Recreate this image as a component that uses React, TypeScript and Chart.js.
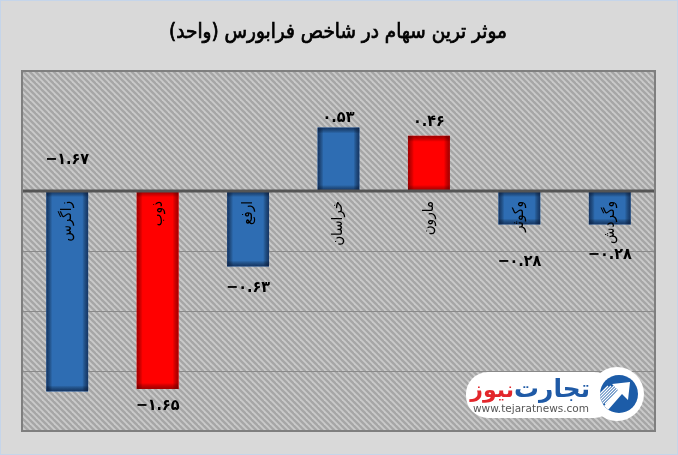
import React, { useEffect, useRef } from "react";
import { Chart, registerables } from "chart.js";

Chart.register(...registerables);

const TITLE = "موثر ترین سهام در شاخص فرابورس (واحد)";
const categories = ["زاگرس", "ذوب", "ارفع", "خراسان", "مارون", "وکوثر", "وگردش"];
const values = [-1.67, -1.65, -0.63, 0.53, 0.46, -0.28, -0.28];
const barColorKeys = ["blue", "red", "blue", "blue", "red", "blue", "blue"];
const yMin = -2;
const yMax = 1;
const yStep = 0.5;
// label placement: 'end' = beyond the bar end, 'zero' = above the zero line
const labelAnchor = ["zero", "end", "end", "end", "end", "end", "end"];
const labelGap = [31, 17, 21, 10, 14, 37, 30];

const COLORS: Record<string, { fill: string; edge: string }> = {
  blue: { fill: "#2E6DB3", edge: "rgba(10,30,70,0.7)" },
  red: { fill: "#FF0000", edge: "rgba(90,0,0,0.55)" },
};

const FONT = '"DejaVu Sans", sans-serif';
const FONT_C = '"DejaVu Sans Condensed", "DejaVu Sans", sans-serif';

function toFa(n: number): string {
  const s = Math.abs(n)
    .toFixed(2)
    .replace(/\d/g, (d) => String.fromCharCode(0x06f0 + Number(d)));
  return (n < 0 ? "−" : "") + s;
}

let hatch: CanvasPattern | null = null;
function getHatch(ctx: CanvasRenderingContext2D): CanvasPattern | null {
  if (hatch) return hatch;
  const tile = document.createElement("canvas");
  tile.width = 6;
  tile.height = 6;
  const t = tile.getContext("2d")!;
  t.fillStyle = "#CACACA";
  t.fillRect(0, 0, 6, 6);
  t.strokeStyle = "#A6A6A6";
  t.lineWidth = 2.4;
  for (const k of [-6, 0, 6]) {
    t.beginPath();
    t.moveTo(k - 1, -1);
    t.lineTo(k + 7, 7);
    t.stroke();
  }
  hatch = ctx.createPattern(tile, "repeat");
  return hatch;
}

function fitFont(ctx: CanvasRenderingContext2D, text: string, weight: string, targetW: number, fam = FONT): number {
  ctx.font = `${weight} 20px ${fam}`;
  const w = ctx.measureText(text).width;
  return (20 * targetW) / w;
}

const decorPlugin = {
  id: "decor",
  beforeDraw(chart: any) {
    const { ctx, chartArea: a, width, height } = chart;
    ctx.save();
    ctx.fillStyle = "#D9D9D9";
    ctx.fillRect(0, 0, width, height);
    ctx.strokeStyle = "#C5D5EA";
    ctx.lineWidth = 1;
    ctx.strokeRect(0.5, 0.5, width - 1, height - 1);
    const p = getHatch(ctx);
    if (p) ctx.fillStyle = p;
    ctx.fillRect(a.left, a.top, a.right - a.left, a.bottom - a.top);
    // gridlines (only on the negative side, like the reference)
    const ys = chart.scales.y;
    const ticks: number[] = (ys.ticks || []).map((t: any) => t.value);
    ctx.strokeStyle = "#8A8A8A";
    ctx.lineWidth = 1;
    for (const v of ticks) {
      if (v < 0 && v > yMin) {
        const py = Math.round(ys.getPixelForValue(v)) + 0.5;
        ctx.beginPath();
        ctx.moveTo(a.left, py);
        ctx.lineTo(a.right, py);
        ctx.stroke();
      }
    }
    ctx.restore();
  },
  afterDatasetsDraw(chart: any) {
    const { ctx, chartArea: a } = chart;
    const meta = chart.getDatasetMeta(0);
    const ys = chart.scales.y;
    const y0 = ys.getPixelForValue(0);
    ctx.save();
    // inner shadows on bars
    meta.data.forEach((bar: any, i: number) => {
      const w = bar.width;
      const l = bar.x - w / 2;
      const top = Math.min(bar.y, bar.base);
      const h = Math.abs(bar.base - bar.y);
      const edge = COLORS[barColorKeys[i]].edge;
      const s = 6;
      ctx.save();
      ctx.beginPath();
      ctx.rect(l, top, w, h);
      ctx.clip();
      const grads: [number, number, number, number, number, number, number, number][] = [
        [l, 0, l + s, 0, l, top, s, h],
        [l + w, 0, l + w - s, 0, l + w - s, top, s, h],
        [0, top, 0, top + s, l, top, w, s],
        [0, top + h, 0, top + h - s, l, top + h - s, w, s],
      ];
      for (const g of grads) {
        const gr = ctx.createLinearGradient(g[0], g[1], g[2], g[3]);
        gr.addColorStop(0, edge);
        gr.addColorStop(1, "rgba(0,0,0,0)");
        ctx.fillStyle = gr;
        ctx.fillRect(g[4], g[5], g[6], g[7]);
      }
      ctx.restore();
    });
    // zero line
    ctx.strokeStyle = "#555555";
    ctx.lineWidth = 3;
    ctx.beginPath();
    ctx.moveTo(a.left, y0);
    ctx.lineTo(a.right, y0);
    ctx.stroke();
    // plot border
    ctx.strokeStyle = "#7F7F7F";
    ctx.lineWidth = 2;
    ctx.strokeRect(a.left, a.top, a.right - a.left, a.bottom - a.top);

    // value labels
    ctx.fillStyle = "#000";
    ctx.textAlign = "center";
    ctx.textBaseline = "middle";
    ctx.font = `bold 16px ${FONT_C}`;
    meta.data.forEach((bar: any, i: number) => {
      const v = values[i];
      let ly: number;
      if (labelAnchor[i] === "zero") ly = y0 - labelGap[i];
      else ly = v >= 0 ? bar.y - labelGap[i] : bar.y + labelGap[i];
      ctx.fillText(toFa(v), bar.x, ly);
    });

    // category labels, rotated, starting just under the zero line
    ctx.font = `15px ${FONT_C}`;
    ctx.direction = "rtl";
    meta.data.forEach((bar: any, i: number) => {
      ctx.save();
      ctx.translate(bar.x, y0 + 10);
      ctx.rotate(-Math.PI / 2);
      ctx.textAlign = "right";
      ctx.textBaseline = "middle";
      ctx.fillStyle = "#000";
      ctx.fillText(categories[i], 0, 0);
      ctx.restore();
    });

    // title
    ctx.fillStyle = "#000";
    ctx.strokeStyle = "#000";
    ctx.lineWidth = 0.7;
    ctx.textAlign = "center";
    ctx.textBaseline = "middle";
    ctx.direction = "rtl";
    const tf = fitFont(ctx, TITLE, "normal", 338, FONT_C);
    ctx.font = `normal ${tf}px ${FONT_C}`;
    ctx.fillText(TITLE, 338, 33);
    ctx.strokeText(TITLE, 338, 33);

    // watermark logo
    ctx.direction = "ltr";
    ctx.fillStyle = "#FFFFFF";
    ctx.beginPath();
    ctx.roundRect(466, 372, 150, 46, 22);
    ctx.fill();
    ctx.beginPath();
    ctx.arc(617, 394, 27, 0, Math.PI * 2);
    ctx.fill();
    // blue emblem
    ctx.save();
    ctx.beginPath();
    ctx.arc(619, 394, 19, 0, Math.PI * 2);
    ctx.fillStyle = "#1C5CA8";
    ctx.fill();
    ctx.clip();
    ctx.strokeStyle = "#FFFFFF";
    ctx.lineWidth = 1.3;
    for (let k = -10; k <= 8; k += 3) {
      ctx.beginPath();
      ctx.moveTo(600 + k, 404);
      ctx.lineTo(600 + k + 18, 386);
      ctx.stroke();
    }
    ctx.fillStyle = "#FFFFFF";
    ctx.beginPath();
    ctx.moveTo(612, 384);
    ctx.lineTo(630, 382);
    ctx.lineTo(628, 400);
    ctx.lineTo(622, 394);
    ctx.lineTo(608, 410);
    ctx.lineTo(604, 406);
    ctx.lineTo(618, 390);
    ctx.closePath();
    ctx.fill();
    ctx.restore();
    // brand text
    ctx.textBaseline = "alphabetic";
    ctx.textAlign = "right";
    ctx.direction = "rtl";
    const f1 = fitFont(ctx, "تجارت", "bold", 76);
    const f2 = fitFont(ctx, "نیوز", "bold", 38);
    ctx.font = `bold ${f1}px ${FONT}`;
    ctx.fillStyle = "#1F5AA6";
    ctx.fillText("تجارت", 590, 397);
    ctx.font = `bold ${(f1 + f2) / 2}px ${FONT}`;
    ctx.fillStyle = "#E3262B";
    ctx.fillText("نیوز", 514, 397);
    ctx.direction = "ltr";
    ctx.textAlign = "left";
    ctx.textBaseline = "middle";
    ctx.font = `10px ${FONT}`;
    ctx.fillStyle = "#555";
    const url = "www.tejaratnews.com";
    const uw = ctx.measureText(url).width;
    ctx.save();
    ctx.translate(473, 409);
    ctx.scale(116 / uw, 1);
    ctx.fillText(url, 0, 0);
    ctx.restore();

    ctx.restore();
  },
};

export default function App() {
  const ref = useRef<HTMLCanvasElement>(null);
  useEffect(() => {
    document.body.style.margin = "0";
    const chart = new Chart(ref.current!, {
      type: "bar",
      data: {
        labels: categories,
        datasets: [
          {
            data: values,
            backgroundColor: barColorKeys.map((k) => COLORS[k].fill),
            borderWidth: 0,
            barPercentage: 0.464,
            categoryPercentage: 1,
          },
        ],
      },
      options: {
        responsive: false,
        animation: false,
        devicePixelRatio: 1,
        layout: { padding: { left: 22, right: 23, top: 71, bottom: 24 } },
        plugins: {
          legend: { display: false },
          tooltip: { enabled: false },
          title: { display: false },
        },
        scales: {
          x: { display: false },
          y: {
            display: false,
            min: yMin,
            max: yMax,
            ticks: { stepSize: yStep },
          },
        },
      },
      plugins: [decorPlugin],
    });
    return () => chart.destroy();
  }, []);
  return (
    <div style={{ width: 678, height: 455 }}>
      <canvas ref={ref} width={678} height={455} style={{ display: "block" }} />
    </div>
  );
}
